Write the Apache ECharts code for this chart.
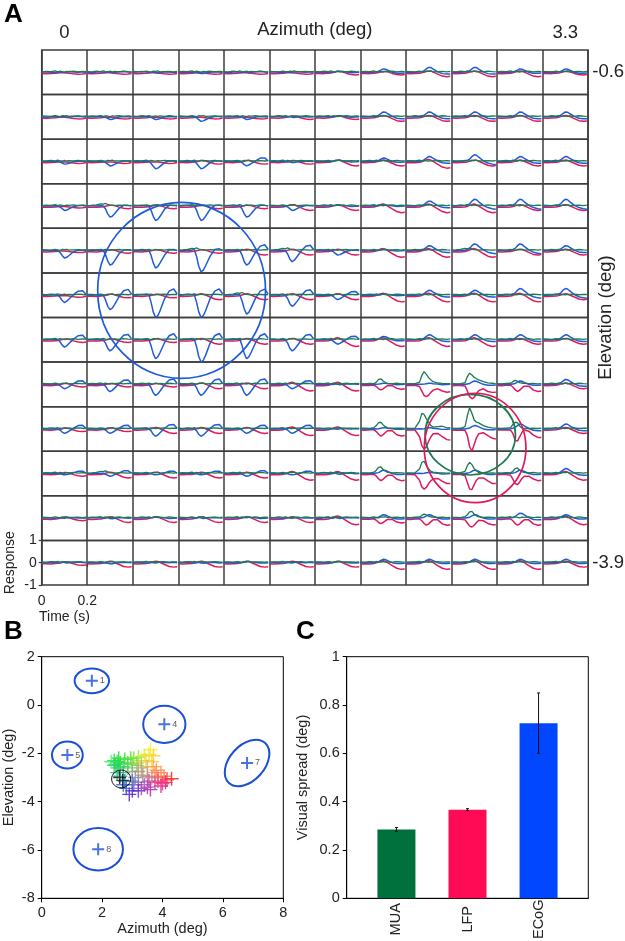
<!DOCTYPE html>
<html><head><meta charset="utf-8">
<style>html,body{margin:0;padding:0;background:#fff}#c{width:625px;height:941px}</style>
<script src="https://cdn.jsdelivr.net/npm/echarts@6/dist/echarts.min.js"></script>
</head><body><div id="c"></div>
<script>
// ---------- Panel A: sample times inside one 0.2 s cell
const cellTimes=[0,.02,.04,.06,.07,.08,.09,.10,.11,.12,.14,.16,.18,.195];
// ECoG (blue) traces
const f1=[0,.02,0,-.02,.01,.02,0,-.01,.01,.03,.01,0,.02,0];
const f2=[0,-.02,.01,.02,0,-.01,.03,.01,-.02,0,.02,.03,.01,0];
const f3=[0,.01,.03,.01,-.01,0,.02,-.02,-.03,-.01,.02,.01,-.01,0];
const d05=[0,.01,0,.01,0,-.01,-.03,-.05,-.05,-.03,0,.02,.01,0];
const d12=[0,0,.01,0,.01,-.02,-.07,-.12,-.11,-.08,-.01,.02,.01,0];
const d20=[0,.01,0,.01,0,-.04,-.12,-.2,-.18,-.13,-.03,.02,.02,0];
const d33=[0,0,.01,0,.01,-.08,-.22,-.33,-.3,-.22,-.05,.03,.02,0];
const d50=[0,.02,0,.01,0,-.12,-.35,-.5,-.46,-.35,-.1,.03,.03,0];
const d65=[0,.01,.03,0,.02,-.18,-.46,-.65,-.6,-.46,-.14,.03,.04,0];
const d78=[0,.02,.01,.02,.04,-.2,-.55,-.78,-.72,-.55,-.2,.04,.05,0];
const d95=[0,.01,.03,.02,.06,-.25,-.7,-.95,-.88,-.68,-.25,.05,.08,0];
const e05=[0,.01,0,.01,0,-.01,-.04,-.06,-.05,-.02,.03,.1,.1,.02];
const e12=[0,0,.02,0,.01,-.03,-.08,-.12,-.1,-.05,.03,.12,.12,.02];
const e20=[0,.01,0,.01,0,-.05,-.14,-.2,-.16,-.1,.03,.15,.16,.02];
const e33=[0,0,.02,.01,0,-.08,-.24,-.33,-.27,-.17,.03,.18,.2,.03];
const e50=[0,.02,0,.02,-.01,-.14,-.38,-.5,-.43,-.3,-.02,.2,.24,.04];
const e65=[.01,0,.02,0,.01,-.2,-.5,-.65,-.58,-.42,-.06,.2,.26,.05];
const e85=[0,.02,.01,.03,.02,-.25,-.62,-.85,-.77,-.57,-.12,.18,.27,.06];
const e100=[0,.01,.03,.02,.04,-.3,-.75,-1,-.92,-.7,-.15,.18,.28,.06];
const p05=[0,.01,0,.01,0,.01,.03,.05,.05,.03,.01,-.02,-.01,0];
const p15=[0,0,.01,0,.02,.04,.1,.15,.14,.09,0,-.04,-.04,-.03];
const p22=[0,.01,0,.01,.03,.07,.15,.22,.21,.14,.02,-.06,-.08,-.08];
const p30=[0,0,.01,.02,.05,.1,.22,.3,.28,.19,.03,-.07,-.12,-.14];
const blueCells=[
[f1,f2,f3,d05,f2,f1,p05,p15,p22,p22,p15,p15],
[f2,d12,d12,d20,d12,f3,p05,p22,p22,p22,p22,p22],
[d12,d20,d33,d33,e20,d05,p05,p15,p22,p30,p22,p22],
[d20,d50,d65,d65,d50,d20,p05,p05,p22,p30,p30,p30],
[d33,d65,d78,d95,e65,e50,d20,p05,p22,p30,p30,p22],
[e33,e65,e100,e100,e85,e50,e20,p05,p22,p22,p30,p30],
[e33,e50,e85,e100,e85,e50,e20,p15,p22,p22,p22,p22],
[e20,e33,e50,e50,e50,e20,f2,p05,p05,p15,p15,p22],
[e20,e20,e33,e33,e20,e20,f1,p05,p05,p15,p22,p22],
[e05,e12,e05,e05,e12,e05,f3,p15,p05,p15,p15,p22],
[f1,f3,p05,f2,p05,f1,f2,p15,p15,p15,p22,p15],
[f2,d05,f1,f3,p05,f1,p05,p15,p15,p15,p15,p15]];
// LFP (red) traces
const ra=[-.05,-.06,-.05,-.04,-.03,-.02,-.02,-.02,-.03,-.04,-.07,-.09,-.08,-.05];
const rt10=[-.05,-.05,-.06,-.04,-.03,-.01,.01,.04,.04,.02,-.05,-.1,-.12,-.1];
const rt20=[-.05,-.06,-.05,-.04,-.02,.01,.04,.06,.05,.01,-.08,-.17,-.2,-.18];
const rt30=[-.06,-.05,-.06,-.04,-.01,.03,.07,.09,.06,0,-.13,-.25,-.3,-.28];
const s25=[-.05,-.05,-.05,-.03,-.1,-.2,-.25,-.2,-.12,-.06,-.06,-.18,-.22,-.2];
const s30=[-.05,-.06,-.04,-.04,-.12,-.24,-.32,-.26,-.16,-.08,-.08,-.26,-.32,-.3];
const s40=[-.05,-.05,-.05,-.08,-.22,-.36,-.4,-.32,-.2,-.1,-.12,-.24,-.3,-.3];
const s50=[-.06,-.05,-.05,-.08,-.25,-.45,-.5,-.38,-.22,-.12,-.12,-.25,-.32,-.3];
const s55=[-.05,-.05,-.04,-.1,-.3,-.5,-.55,-.48,-.36,-.26,-.2,-.3,-.35,-.33];
const s55b=[-.05,-.05,-.04,-.06,-.2,-.5,-.55,-.35,-.15,-.05,-.1,-.28,-.38,-.38];
const s65=[-.06,-.05,-.05,-.07,-.3,-.55,-.65,-.58,-.42,-.28,-.2,-.32,-.36,-.35];
const s70=[-.05,-.05,-.06,-.3,-.6,-.7,-.62,-.45,-.32,-.25,-.22,-.35,-.45,-.45];
const s75=[-.05,-.05,-.05,-.1,-.4,-.7,-.72,-.5,-.3,-.2,-.2,-.33,-.45,-.45];
const s90=[-.05,-.05,-.05,-.35,-.75,-.9,-.8,-.55,-.35,-.22,-.2,-.35,-.48,-.5];
const s100=[-.05,-.06,-.05,-.07,-.3,-.8,-1,-.7,-.4,-.22,-.17,-.3,-.42,-.45];
const redCells=[
[ra,ra,ra,ra,ra,ra,rt10,rt10,rt20,rt20,rt20,rt10],
[ra,ra,ra,ra,ra,rt10,rt10,rt20,rt20,rt20,rt20,rt20],
[ra,ra,ra,rt10,rt10,rt10,rt20,rt20,rt30,rt20,rt20,rt20],
[ra,rt10,rt10,rt10,rt10,rt20,rt20,rt30,rt30,rt30,rt20,rt20],
[ra,rt10,rt10,rt10,rt20,rt20,rt20,rt30,rt30,rt30,rt20,rt20],
[ra,rt10,rt10,rt20,rt20,rt20,rt20,rt30,rt30,rt30,rt30,rt20],
[rt10,rt10,rt10,rt20,rt20,rt20,rt30,rt30,rt30,rt30,rt20,rt20],
[rt10,rt10,rt10,rt20,rt20,rt30,rt30,s25,s55,s65,s30,rt20],
[rt10,rt10,rt20,rt20,rt20,rt30,rt30,s30,s90,s100,s55b,rt20],
[rt10,rt20,rt20,rt20,rt20,rt30,rt30,s30,s70,s75,s50,rt30],
[rt10,rt20,rt20,rt20,rt20,rt20,rt30,s25,s30,s40,s30,rt30],
[rt10,rt20,rt20,rt20,rt20,rt20,rt20,rt30,rt30,rt30,rt30,rt20]];
// MUA (green) traces
const g1=[.02,.04,.03,.06,.02,.05,.03,.01,.04,.03,.05,.02,.04,.03];
const g2=[.03,.02,.05,.03,.06,.03,.02,.05,.02,.04,.02,.05,.03,.02];
const g3=[.04,.03,.02,.05,.03,.01,.05,.04,.06,.02,.03,.04,.02,.04];
const g4=[.02,.03,.05,.1,.08,.12,.07,.04,.03,.02,.04,.03,.02,.03];
const h20=[.03,.02,.04,.05,.12,.18,.14,.08,.05,.05,.03,.04,.02,.03];
const h25=[.03,.02,.04,.03,.1,.22,.25,.15,.08,.04,.03,.05,.02,.03];
const h30=[.03,.03,.02,.06,.15,.28,.3,.18,.1,.05,.03,.04,.03,.02];
const h30b=[.03,.02,.04,.06,.2,.3,.28,.12,.04,.02,.02,.03,.02,.03];
const h50=[.03,.02,.03,.08,.35,.5,.42,.32,.25,.2,.12,.07,.05,.02];
const h50c=[.03,.02,.04,.1,.35,.5,.4,.22,.12,.05,.02,.02,.03,.02];
const h55=[.03,.02,.03,.2,.5,.55,.35,.2,.1,.06,.04,.03,.02,.02];
const h57=[.02,.03,.03,.1,.4,.57,.45,.3,.2,.12,.06,.04,.03,.03];
const h70=[.03,.02,.04,.35,.7,.65,.45,.3,.15,.08,.1,.12,.05,.06];
const h95=[.03,.02,.03,.1,.6,.95,.7,.4,.3,.27,.15,.08,.05,.03];
const greenCells=[
[g1,g2,g3,g1,g2,g3,g2,g1,g3,g2,g1,g3],
[g3,g1,g2,g3,g1,g2,g1,g3,g2,g1,g3,g2],
[g2,g3,g1,g2,g3,g1,g3,g2,g1,g3,g2,g1],
[g1,g4,g3,g1,g2,g3,g2,g1,g3,g2,g1,g3],
[g3,g1,g2,g4,g1,g4,g1,g3,g2,g4,g3,g2],
[g2,g3,g1,g2,g4,g1,g3,g2,g1,g3,g2,g1],
[g1,g2,g3,g1,g2,g3,g2,g1,g3,g2,g1,g3],
[g3,g1,g2,g3,g1,g2,g1,h25,h57,h50,h20,g2],
[g2,g3,g1,g2,g3,g1,g3,h30,h70,h95,h30b,g1],
[g1,g4,g3,g1,g2,g3,g2,h30,h55,h50c,h25,g3],
[g3,g1,g2,g3,g1,g2,g1,g3,h20,h30,g1,g2],
[g2,g3,g1,g2,g3,g1,g3,g2,g1,g3,g2,g1]];
// Spread circles of panel A: [azimuth, elevation, radiusAz, radiusEl, tilt]
const circleLFP=[2.706,-3.128,.335,.368,0];
const circleMUA=[2.674,-3.039,.298,.271,0];
const circleECoG=[.772,-2.068,.553,.592,0];
// ---------- Panel B
const ecogAz=[1.66,4.06,.85,6.8,1.87];
const ecogEl=[1,-.8,-2.07,-2.4,-5.97];
const ecogId=['1','4','5','7','8'];
const ecogRadAz=[.57,.7,.51,.894,.82];
const ecogRadEl=[.51,.77,.56,.728,.88];
const ecogTilt=[0,0,0,48,0];
const siteAz=[2.4,2.45,2.55,2.6,2.7,2.75,2.85,2.95,3,3.05,3.2,3.3,3.15,3.6,3.55,3.7,3.45,3.65,3.5,3.7,3.75,3.95,4.05,3.85,4.15,4.3,4.1,3.95,3.75,3.6,3.55,3.4,3.2,3.05,3.2,3,2.9,2.75,2.7,2.6,2.5,2.7,3,3.2,3.35,3.1,3.5,3.3,2.4,2.55,2.85,2.3,2.5,3.4,3.8,4.0,3.85,3.5,3.3,3.0,2.8,3.65,3.15];
const siteEl=[-2.3,-2.45,-2.2,-2.4,-2.55,-2.25,-2.4,-2.2,-2.45,-2.2,-2.15,-2.3,-2.5,-1.85,-2.05,-2.1,-2.3,-2.35,-2.55,-2.55,-2.8,-2.8,-2.95,-3,-3.1,-3.05,-3.2,-3.35,-3.2,-3.5,-3.15,-3.3,-3.2,-3.3,-3.55,-3.55,-3.7,-3.15,-3.3,-2.95,-2.8,-2.8,-2.75,-2.75,-2.9,-3,-2.95,-2.6,-2.5,-2.6,-2.6,-2.35,-2.35,-2.1,-2.7,-3.25,-3.15,-3.4,-3.45,-3.15,-3.45,-3.0,-2.4];
const siteColors=['#22dd33','#1fe040','#22dd33','#25e040','#30dd50','#33e030','#44dd44','#44e030','#66dd44','#66ee22','#99ee22','#b0e820','#99cc66','#ffee22','#ffdd22','#ffd422','#eecc44','#ffcc33','#eeaa55','#ffaa44','#ff9944','#ff8844','#ff7744','#ff6655','#ff4444','#ee2222','#ee2266','#dd2288','#cc33aa','#aa22aa','#bb44aa','#aa55bb','#8866cc','#7755cc','#6633cc','#5533cc','#5522cc','#2288cc','#3366cc','#22aa99','#22bb77','#44aa88','#99aa88','#aa9977','#aa8888','#8888aa','#bb8888','#aaaa66','#22cc66','#22cc66','#55cc66','#44ee77','#22dd55','#ddee22','#ff8855','#ee3388','#ee4466','#bb33aa','#9944bb','#5577cc','#3355cc','#dd7788','#aacc55'];
const targetAz=[2.58,2.68];
const targetEl=[-3,-3.12];
const targetCircle=[2.63,-3.06,.315,.367,0];
// ---------- Panel C
const spreadNames=['MUA','LFP','ECoG'];
const spreadPos=[1,2,3];
const spreadMean=[.285,.367,.725];
const spreadLow=[.277,.363,.6];
const spreadHigh=[.293,.371,.85];
const spreadColors=['#00703c','#ff0a54','#0047ff'];

// ---------- Build
const FONT='Liberation Sans', INK='#222';
const L=41.7,W=546.3,T=50,RH=44.58;
const grids=[],xAxes=[],yAxes=[],series=[];
function trace(table){const out=[];table.forEach((tr,c)=>{cellTimes.forEach((t,k)=>out.push([c*.2+t,tr[k]]));out.push([c*.2+.2,null]);});return out;}
const noBounds={outerBoundsMode:'none',containLabel:false};
for(let i=0;i<12;i++){
  grids.push({...noBounds,left:L,top:T+i*RH,width:W,height:RH,show:true,borderColor:'#3c3c3c',borderWidth:1.5,backgroundColor:'transparent'});
  xAxes.push({gridIndex:i,type:'value',min:0,max:2.4,interval:.2,axisLine:{show:false},axisTick:{show:false},axisLabel:{show:false},splitLine:{show:true,lineStyle:{color:'#3c3c3c',width:1.5}}});
  yAxes.push({gridIndex:i,type:'value',min:-1,max:1,interval:1,axisLine:{show:false},axisTick:{show:false},axisLabel:{show:false},splitLine:{show:false}});
  [[redCells,'#e0185f',1.5,2],[blueCells,'#1f5ad8',1.5,3],[greenCells,'#1d7a4e',1.3,4]].forEach(([tb,col,w,z])=>{
    series.push({type:'line',xAxisIndex:i,yAxisIndex:i,data:trace(tb[i]),showSymbol:false,symbol:'none',clip:false,connectNulls:false,z,silent:true,lineStyle:{color:col,width:w}});
  });
}
// Ellipse renderer: centre and radii go through the axis scales
function ellipse(color,lw){return function(p,api){
  const c=api.coord([api.value(0),api.value(1)]),s=api.size([api.value(2),api.value(3)]);
  return {type:'ellipse',x:c[0],y:c[1],rotation:api.value(4)*Math.PI/180,shape:{cx:0,cy:0,rx:s[0],ry:s[1]},style:{fill:'none',stroke:color,lineWidth:lw}};
};}
const freeName={nameMoveOverlap:false,nameLocation:'middle'};
// Overlay grid on azimuth / elevation, cell centres
const AX=L+W/24, AW=W*11/12, AY=T+RH/2, AH=RH*11;
const gA=grids.length;
grids.push({...noBounds,left:AX,top:AY,width:AW,height:AH});
const txt={fontFamily:FONT,color:INK};
xAxes.push({...freeName,gridIndex:gA,type:'value',position:'top',min:0,max:3.3,interval:3.3,axisLine:{show:false},axisTick:{show:false},splitLine:{show:false},
  axisLabel:{...txt,fontSize:18.5,margin:30,formatter:v=>+v.toFixed(1)+'',showMinLabel:true,showMaxLabel:true},
  name:'Azimuth (deg)',nameGap:33,nameTextStyle:{...txt,fontSize:18.5}});
yAxes.push({...freeName,gridIndex:gA,type:'value',position:'right',min:-3.9,max:-.6,interval:3.3,axisLine:{show:false},axisTick:{show:false},splitLine:{show:false},
  axisLabel:{...txt,fontSize:18.5,margin:27,padding:[7,0,0,0],formatter:v=>v.toFixed(1),showMinLabel:true,showMaxLabel:true},
  name:'Elevation (deg)',nameGap:31.5,nameRotate:90,nameTextStyle:{...txt,fontSize:18.5,padding:[0,0,0,0]}});
[[circleECoG,'#1f5ad8'],[circleMUA,'#1d7a4e'],[circleLFP,'#e0185f']].forEach(([d,col])=>series.push({type:'custom',xAxisIndex:gA,yAxisIndex:gA,z:6,silent:true,clip:false,data:[d],renderItem:ellipse(col,1.7)}));
// Scale axes of the bottom-left cell
const gS=grids.length;
grids.push({...noBounds,left:L,top:T+11*RH,width:W/12,height:RH});
xAxes.push({...freeName,gridIndex:gS,type:'value',min:0,max:.2,interval:.2,axisLine:{show:false},axisTick:{show:true,length:4,lineStyle:{color:'#3c3c3c',width:1.2}},splitLine:{show:false},
  axisLabel:{...txt,fontSize:14,margin:9,formatter:v=>v===0?'0':'0.2'},name:'Time (s)',nameGap:25,nameTextStyle:{...txt,fontSize:14}});
yAxes.push({...freeName,gridIndex:gS,type:'value',min:-1,max:1,interval:1,axisLine:{show:false},axisTick:{show:true,length:3,lineStyle:{color:'#3c3c3c',width:1.2}},splitLine:{show:false},
  axisLabel:{...txt,fontSize:14,margin:5},name:'Response',nameGap:25,nameTextStyle:{...txt,fontSize:14}});
series.push({type:'line',xAxisIndex:gS,yAxisIndex:gS,data:[],silent:true});
// Panel B
const gB=grids.length;
grids.push({...noBounds,left:41.7,top:656.7,width:241.6,height:241.6,show:true,borderColor:'#000',borderWidth:1,backgroundColor:'transparent'});
const tickB={show:true,length:4,lineStyle:{color:'#000',width:1}},lineB={show:true,onZero:false,lineStyle:{color:'#000',width:1}};
xAxes.push({...freeName,gridIndex:gB,type:'value',min:0,max:8,interval:2,axisLine:lineB,axisTick:tickB,splitLine:{show:false},axisLabel:{...txt,fontSize:14.5,margin:7},
  name:'Azimuth (deg)',nameGap:22.7,nameTextStyle:{...txt,fontSize:14.5}});
yAxes.push({...freeName,gridIndex:gB,type:'value',min:-8,max:2,interval:2,axisLine:lineB,axisTick:tickB,splitLine:{show:false},axisLabel:{...txt,fontSize:14.5,margin:7},
  name:'Elevation (deg)',nameGap:25,nameTextStyle:{...txt,fontSize:14.5}});
const THICK='path://M5 0h2v5h5v2h-5v5h-2v-5h-5v-2h5z',THIN='path://M5.4 0h1.2v5.4h5.4v1.2h-5.4v5.4h-1.2v-5.4h-5.4v-1.2h5.4z';
series.push({type:'scatter',xAxisIndex:gB,yAxisIndex:gB,z:3,silent:true,symbol:THIN,symbolSize:14,
  data:siteAz.map((a,i)=>({value:[a,siteEl[i]],itemStyle:{color:siteColors[i],opacity:.85}}))});
series.push({type:'scatter',xAxisIndex:gB,yAxisIndex:gB,z:4,silent:true,symbol:THIN,symbolSize:13,itemStyle:{color:'#111'},
  data:targetAz.map((a,i)=>[a,targetEl[i]])});
series.push({type:'custom',xAxisIndex:gB,yAxisIndex:gB,z:4,silent:true,data:[targetCircle],renderItem:ellipse('#111',1)});
series.push({type:'custom',xAxisIndex:gB,yAxisIndex:gB,z:5,silent:true,data:ecogAz.map((a,i)=>[a,ecogEl[i],ecogRadAz[i],ecogRadEl[i],ecogTilt[i]]),renderItem:ellipse('#1a50d8',2)});
series.push({type:'scatter',xAxisIndex:gB,yAxisIndex:gB,z:5,silent:true,symbol:THICK,symbolSize:12,itemStyle:{color:'#1a50d8'},
  data:ecogAz.map((a,i)=>({value:[a,ecogEl[i]],label:{show:true,position:'right',distance:2,formatter:ecogId[i],fontFamily:FONT,fontSize:9,color:'#333'}}))});
// Panel C
const gC=grids.length;
grids.push({...noBounds,left:346.7,top:656.7,width:241.6,height:241.6,show:true,borderColor:'#000',borderWidth:1,backgroundColor:'transparent'});
xAxes.push({gridIndex:gC,type:'value',min:.3,max:3.7,axisLine:lineB,axisTick:{show:false},splitLine:{show:false},
  axisLabel:{...txt,fontSize:14.5,rotate:90,align:'center',verticalAlign:'middle',margin:21,customValues:spreadPos,formatter:v=>spreadNames[Math.round(v)-1]}});
yAxes.push({...freeName,gridIndex:gC,type:'value',min:0,max:1,interval:.2,axisLine:lineB,axisTick:tickB,splitLine:{show:false},axisLabel:{...txt,fontSize:14.5,margin:7},
  name:'Visual spread (deg)',nameGap:36,nameTextStyle:{...txt,fontSize:14.5}});
series.push({type:'bar',xAxisIndex:gC,yAxisIndex:gC,barWidth:38,silent:true,z:2,
  data:spreadPos.map((p,i)=>({value:[p,spreadMean[i]],itemStyle:{color:spreadColors[i]}}))});
series.push({type:'custom',xAxisIndex:gC,yAxisIndex:gC,z:5,silent:true,data:spreadPos.map((p,i)=>[p,spreadLow[i],spreadHigh[i]]),
  renderItem:(q,api)=>{const a=api.coord([api.value(0),api.value(1)]),b=api.coord([api.value(0),api.value(2)]);const st={stroke:'#111',lineWidth:1,fill:'none'};
    return {type:'group',children:[
      {type:'line',shape:{x1:a[0],y1:a[1],x2:b[0],y2:b[1]},style:st},
      {type:'line',shape:{x1:a[0]-1.5,y1:a[1],x2:a[0]+1.5,y2:a[1]},style:st},
      {type:'line',shape:{x1:b[0]-1.5,y1:b[1],x2:b[0]+1.5,y2:b[1]},style:st}]};}});
const letter=(s,x,y)=>({type:'text',x,y,style:{text:s,fontFamily:'Liberation Sans Narrow, Liberation Sans',fontWeight:'bold',fontSize:26,fill:'#000'}});
const chart=echarts.init(document.getElementById('c'),null,{renderer:'canvas'});
chart.setOption({animation:false,backgroundColor:'#fff',grid:grids,xAxis:xAxes,yAxis:yAxes,series,
  graphic:[letter('A',4,2),letter('B',4,619),letter('C',296,619)]});
</script></body></html>
